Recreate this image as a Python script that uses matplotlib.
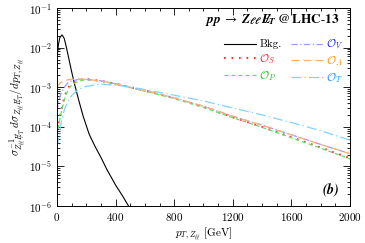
import matplotlib
matplotlib.use('Agg')
import matplotlib.pyplot as plt
import numpy as np
from matplotlib.ticker import MultipleLocator, LogLocator

plt.rcParams['mathtext.fontset'] = 'cm'
plt.rcParams['font.family'] = 'serif'
plt.rcParams['font.serif'] = ['cmr10', 'DejaVu Serif']
plt.rcParams['axes.formatter.use_mathtext'] = True
plt.rcParams['axes.unicode_minus'] = False

# background curve
pt_bkg = [0, 10, 20, 35, 50, 65, 80, 100, 120, 150, 180, 220, 260, 300, 340, 400, 450, 500]
bkg = [5e-3, 0.012, 0.018, 0.021, 0.017, 0.010, 5.5e-3, 2.5e-3, 1.2e-3, 4.5e-4, 1.8e-4,
       6.5e-5, 3.2e-5, 1.7e-5, 8.5e-6, 3.4e-6, 1.75e-6, 8.5e-7]

# signal operators
pt = [0, 10, 25, 50, 75, 100, 150, 200, 300, 400, 500, 600, 800, 1000, 1200, 1400, 1600, 1800, 2000]
o_s = [8e-5, 1.3e-4, 2.2e-4, 5.5e-4, 9.5e-4, 1.25e-3, 1.55e-3, 1.6e-3, 1.45e-3, 1.22e-3, 1.0e-3,
       8.2e-4, 5.3e-4, 3.2e-4, 1.75e-4, 1.0e-4, 5.5e-5, 3.0e-5, 1.6e-5]
o_p = [6e-5, 1e-4, 2e-4, 4.8e-4, 8.5e-4, 1.15e-3, 1.45e-3, 1.55e-3, 1.43e-3, 1.2e-3, 9.8e-4,
       8.0e-4, 5.2e-4, 3.1e-4, 1.7e-4, 9.7e-5, 5.3e-5, 2.9e-5, 1.55e-5]
o_v = [2.5e-4, 4e-4, 6.5e-4, 1.0e-3, 1.3e-3, 1.45e-3, 1.58e-3, 1.6e-3, 1.45e-3, 1.22e-3, 1.0e-3,
       8.3e-4, 5.4e-4, 3.3e-4, 1.85e-4, 1.1e-4, 6.3e-5, 3.6e-5, 2.1e-5]
o_a = [1.0e-3, 1.15e-3, 1.3e-3, 1.45e-3, 1.55e-3, 1.58e-3, 1.6e-3, 1.58e-3, 1.45e-3, 1.22e-3, 1.0e-3,
       8.3e-4, 5.4e-4, 3.3e-4, 1.85e-4, 1.1e-4, 6.3e-5, 3.6e-5, 2.1e-5]
o_t = [3e-5, 5e-5, 1.1e-4, 2.7e-4, 4.4e-4, 6.2e-4, 8.9e-4, 1.05e-3, 1.2e-3, 1.13e-3, 1.02e-3,
       8.7e-4, 6.3e-4, 4.5e-4, 3.0e-4, 2.0e-4, 1.28e-4, 8.0e-5, 4.6e-5]

fig = plt.figure(figsize=(3.65, 2.43), dpi=100)
ax = fig.add_axes([0.156, 0.152, 0.803, 0.815])

ax.plot(pt_bkg, bkg, color='k', lw=0.8, label='Bkg.')
ax.plot(pt, o_s, color='#ff3030', lw=1.5, ls=(0, (0.8, 2.8)), label=r'$\mathcal{O}_S$')
ax.plot(pt, o_p, color='#66dd66', lw=0.9, ls=(0, (3.2, 2.4)), label=r'$\mathcal{O}_P$')
ax.plot(pt, o_v, color='#9c9cff', lw=0.9, ls=(0, (5, 2, 1, 2)), label=r'$\mathcal{O}_V$')
ax.plot(pt, o_a, color='#ffb070', lw=0.9, ls=(0, (6.4, 3.2)), label=r'$\mathcal{O}_A$')
ax.plot(pt, o_t, color='#80d4ff', lw=0.9, ls=(0, (8, 2.5, 1, 2.5)), label=r'$\mathcal{O}_T$')

ax.set_yscale('log')
ax.set_xlim(0, 2000)
ax.set_ylim(1e-6, 1e-1)
ax.xaxis.set_major_locator(MultipleLocator(400))
ax.xaxis.set_minor_locator(MultipleLocator(100))
ax.yaxis.set_major_locator(LogLocator(base=10, numticks=10))
ax.yaxis.set_minor_locator(LogLocator(base=10, subs=np.arange(2, 10), numticks=10))
ax.tick_params(which='both', direction='in', top=True, right=True, labelsize=8, width=0.6)
ax.tick_params(which='major', length=5)
ax.tick_params(which='minor', length=2.5)
for s in ax.spines.values():
    s.set_linewidth(0.7)

ax.set_xlabel(r'$p_{T,Z_{\ell\ell}}$ [GeV]', fontsize=8, labelpad=2)
ax.set_ylabel(r'$\sigma^{-1}_{Z_{\ell\ell}E\!\!\!/_T}\,d\sigma_{Z_{\ell\ell}E\!\!\!/_T}/dp_{T,Z_{\ell\ell}}$',
              fontsize=8, labelpad=1)

ax.text(0.966, 0.94,
        r'$\mathbfit{pp}\;\rightarrow\;\mathbfit{Z_{\ell\ell}\,E\!\!\!/_T}\;\mathbf{@\,LHC}$-$\mathbf{13}$',
        transform=ax.transAxes, ha='right', va='center', fontsize=9.5, math_fontfamily='stix')
ax.text(0.962, 0.078, r'$\mathbfit{(b)}$', transform=ax.transAxes, ha='right', va='center',
        fontsize=10, math_fontfamily='stix')

leg = ax.legend(ncol=2, loc='upper right', bbox_to_anchor=(1.0, 0.885), frameon=False,
                fontsize=8, handlelength=2.9, handletextpad=0.3, columnspacing=0.8,
                labelspacing=0.25, borderaxespad=0.2)
colors = ['k', '#ff2020', '#20c020', '#2020ff', '#ff8c00', '#0099ff']
for t, c in zip(leg.get_texts(), colors):
    t.set_color(c)

fig.savefig('out.png', dpi=100)
